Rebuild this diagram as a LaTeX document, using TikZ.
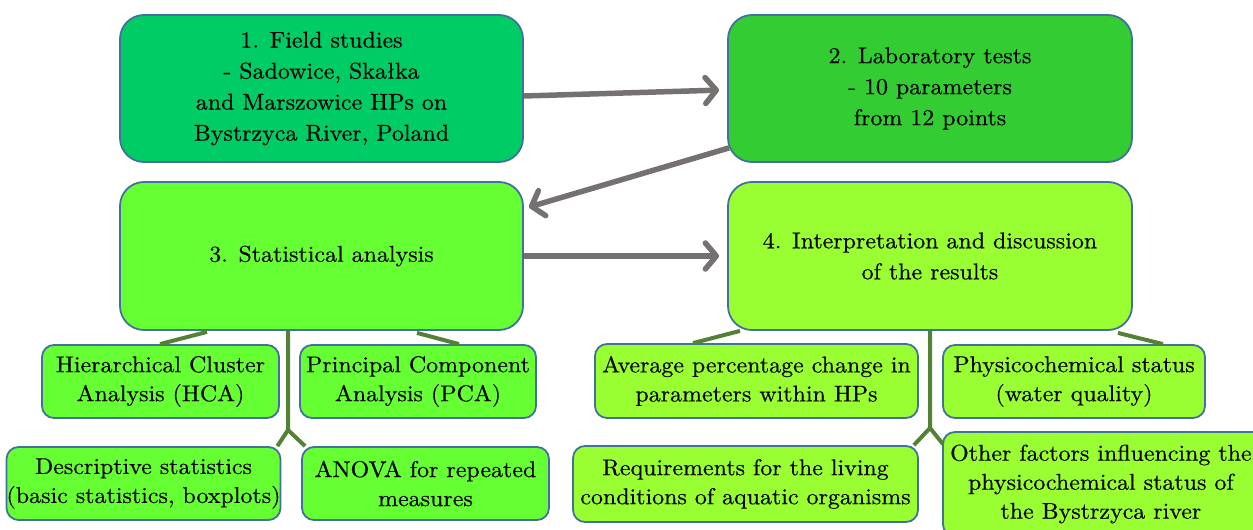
\documentclass[tikz,border=0pt]{standalone}
\usepackage{fontspec}
\setmainfont{lmroman10-regular}[Extension=.otf, FakeStretch=1.05, FakeBold=0.4]
\usetikzlibrary{arrows.meta}
\definecolor{cA}{RGB}{0,204,102}
\definecolor{cB}{RGB}{51,204,51}
\definecolor{cC}{RGB}{102,255,51}
\definecolor{cD}{RGB}{153,255,51}
\definecolor{bord}{RGB}{65,113,156}
\definecolor{conn}{RGB}{84,130,53}
\definecolor{arrc}{RGB}{118,113,113}
\tikzset{
  mainbox/.style={draw=bord, line width=1.8pt, rounded corners=24pt, align=center, inner sep=0pt,
     font=\fontsize{22.8}{31}\selectfont},
  subbox/.style={draw=bord, line width=1.8pt, rounded corners=12pt, align=center, inner sep=0pt,
     font=\fontsize{22.8}{29}\selectfont},
  conline/.style={draw=conn, line width=4pt},
  arrline/.style={draw=arrc, line width=5.5pt, -{Straight Barb[length=11pt, width=26pt, round]}},
}
\begin{document}
\begin{tikzpicture}[x=1pt, y=-1pt]
\useasboundingbox (0,0) rectangle (1253,530);
% main boxes
\node[mainbox, fill=cA, minimum width=403pt, minimum height=147pt] (b1) at (321.5,88.5)
  {1. Field studies\\- Sadowice, Ska\l{}ka\\and Marszowice HPs on\\Bystrzyca River, Poland};
\node[mainbox, fill=cB, minimum width=404pt, minimum height=147pt] (b2) at (930,88.5)
  {2. Laboratory tests\\- 10 parameters\\from 12 points};
\node[mainbox, fill=cC, minimum width=403pt, minimum height=148pt] (b3) at (321.5,256)
  {3. Statistical analysis};
\node[mainbox, fill=cD, minimum width=404pt, minimum height=148pt] (b4) at (930,256)
  {4. Interpretation and discussion\\of the results};
% sub boxes
\node[subbox, fill=cC, minimum width=237pt, minimum height=73pt] (hca) at (160.5,381.5)
  {Hierarchical Cluster\\Analysis (HCA)};
\node[subbox, fill=cC, minimum width=236pt, minimum height=73pt] (pca) at (418,381.5)
  {Principal Component\\Analysis (PCA)};
\node[subbox, fill=cC, minimum width=271pt, minimum height=73pt] (desc) at (143.5,483.5)
  {Descriptive statistics\\(basic statistics, boxplots)};
\node[subbox, fill=cC, minimum width=247pt, minimum height=73pt] (anova) at (425.5,483.5)
  {ANOVA for repeated\\measures};
\node[subbox, fill=cD, minimum width=323pt, minimum height=74pt] (avg) at (756.5,381)
  {Average percentage change in\\parameters within HPs};
\node[subbox, fill=cD, minimum width=262pt, minimum height=73pt] (phys) at (1074,381.5)
  {Physicochemical status\\(water quality)};
\node[subbox, fill=cD, minimum width=345pt, minimum height=76pt] (req) at (745.5,484)
  {Requirements for the living\\conditions of aquatic organisms};
\node[subbox, fill=cD, minimum width=330pt, minimum height=104pt, anchor=west] (other) at (942,484)
  {\hspace*{-14pt}Other factors influencing the\\\hspace*{-14pt}physicochemical status of\\\hspace*{-14pt}the Bystrzyca river};
% connectors left
\coordinate (jl) at (288,430);
\coordinate (jr) at (930,428);
\draw[conline] ([xshift=-114.5pt,yshift=-1pt]b3.south) -- ([xshift=-0.5pt]hca.north);
\draw[conline] ([xshift=95.5pt,yshift=-2pt]b3.south) -- ([xshift=41pt]pca.north);
\draw[conline] (b3.south -| jl) -- (jl) -- ([xshift=-4pt]desc.north east);
\draw[conline] (jl) -- ([xshift=4pt]anova.north west);
% connectors right
\draw[conline] ([xshift=-190pt]b4.south) -- ([xshift=-63.5pt]avg.north);
\draw[conline] ([xshift=188pt,yshift=-2pt]b4.south) -- ([xshift=89pt]phys.north);
\draw[conline] (b4.south -| jr) -- (jr) -- ([xshift=-5pt]req.north east);
\draw[conline] (jr) -- ([xshift=1pt,yshift=-13pt]other.north west);
% arrows
\draw[arrline, shorten >=3pt] ([yshift=-7.5pt]b1.east) -- ([xshift=-5pt, yshift=-1.5pt]b2.west);
\draw[arrline] ([shift={(2pt,15pt)}]b2.south west) -- ([shift={(5pt,-26pt)}]b3.north east);
\draw[arrline, shorten >=8pt] (b3.east) -- (b4.west);
\end{tikzpicture}
\end{document}
